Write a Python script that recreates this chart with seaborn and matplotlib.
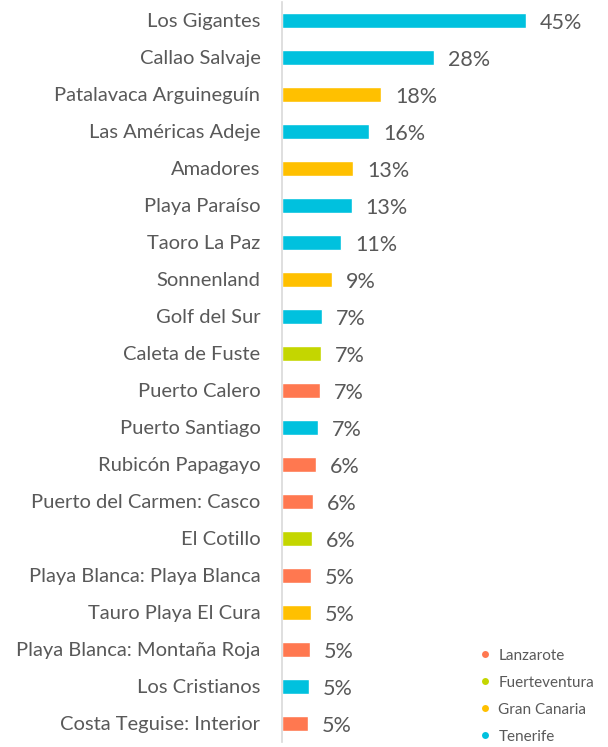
import matplotlib
matplotlib.use("Agg")
import matplotlib.pyplot as plt
from matplotlib.lines import Line2D
import seaborn as sns
import pandas as pd

resorts = ["Los Gigantes", "Callao Salvaje", "Patalavaca Arguineguín", "Las Américas Adeje",
           "Amadores", "Playa Paraíso", "Taoro La Paz", "Sonnenland", "Golf del Sur",
           "Caleta de Fuste", "Puerto Calero", "Puerto Santiago", "Rubicón Papagayo",
           "Puerto del Carmen: Casco", "El Cotillo", "Playa Blanca: Playa Blanca",
           "Tauro Playa El Cura", "Playa Blanca: Montaña Roja", "Los Cristianos",
           "Costa Teguise: Interior"]
shares = [45.0, 28.0, 18.3, 16.1, 13.1, 12.9, 10.9, 9.2, 7.4, 7.2,
          7.0, 6.6, 6.3, 5.7, 5.6, 5.35, 5.35, 5.2, 5.0, 4.8]
islands = ["Tenerife", "Tenerife", "Gran Canaria", "Tenerife", "Gran Canaria", "Tenerife",
           "Tenerife", "Gran Canaria", "Tenerife", "Fuerteventura", "Lanzarote", "Tenerife",
           "Lanzarote", "Lanzarote", "Fuerteventura", "Lanzarote", "Gran Canaria",
           "Lanzarote", "Tenerife", "Lanzarote"]

island_order = ["Lanzarote", "Fuerteventura", "Gran Canaria", "Tenerife"]
island_colors = {"Lanzarote": "#FF7850", "Fuerteventura": "#C4D600",
                 "Gran Canaria": "#FFC000", "Tenerife": "#00C1DE"}

df = pd.DataFrame({"resort": resorts, "share": shares, "island": islands})

sns.set_theme(style="white")
plt.rcParams["font.family"] = ["Lato", "DejaVu Sans"]

fig = plt.figure(figsize=(6.08, 7.47), dpi=100)
ax = fig.add_axes([282 / 608, 5 / 747, 318 / 608, 740 / 747])

bar_colors = [island_colors[i] for i in islands]
sns.barplot(data=df, x="share", y="resort", hue="resort", palette=bar_colors,
            legend=False, orient="h", width=0.38, saturation=1, ax=ax)

for cont in ax.containers:
    labels = ax.bar_label(cont, fmt="%.0f%%", padding=10, fontsize=15.5, color="#595959")
    for t in labels:
        t.set_va("center")
        t.set_y(-2)

ax.set_xlim(0, 58.7)
ax.set_xlabel("")
ax.set_ylabel("")
ax.set_xticks([])
ax.tick_params(axis="y", length=0, pad=15.5, labelsize=14.5, labelcolor="#595959")
for s in ["top", "right", "bottom"]:
    ax.spines[s].set_visible(False)
ax.spines["left"].set_color("#D9D9D9")
ax.spines["left"].set_linewidth(1.2)

handles = [Line2D([], [], marker="o", linestyle="", markersize=5,
                  markerfacecolor=island_colors[i], markeredgewidth=0) for i in island_order]
fig.legend(handles, island_order, loc="lower right", bbox_to_anchor=(1.0, -0.014),
           frameon=False, fontsize=11, labelcolor="#595959", handletextpad=0.4,
           labelspacing=0.85, handlelength=1.0)

fig.savefig("out.png", dpi=100)
